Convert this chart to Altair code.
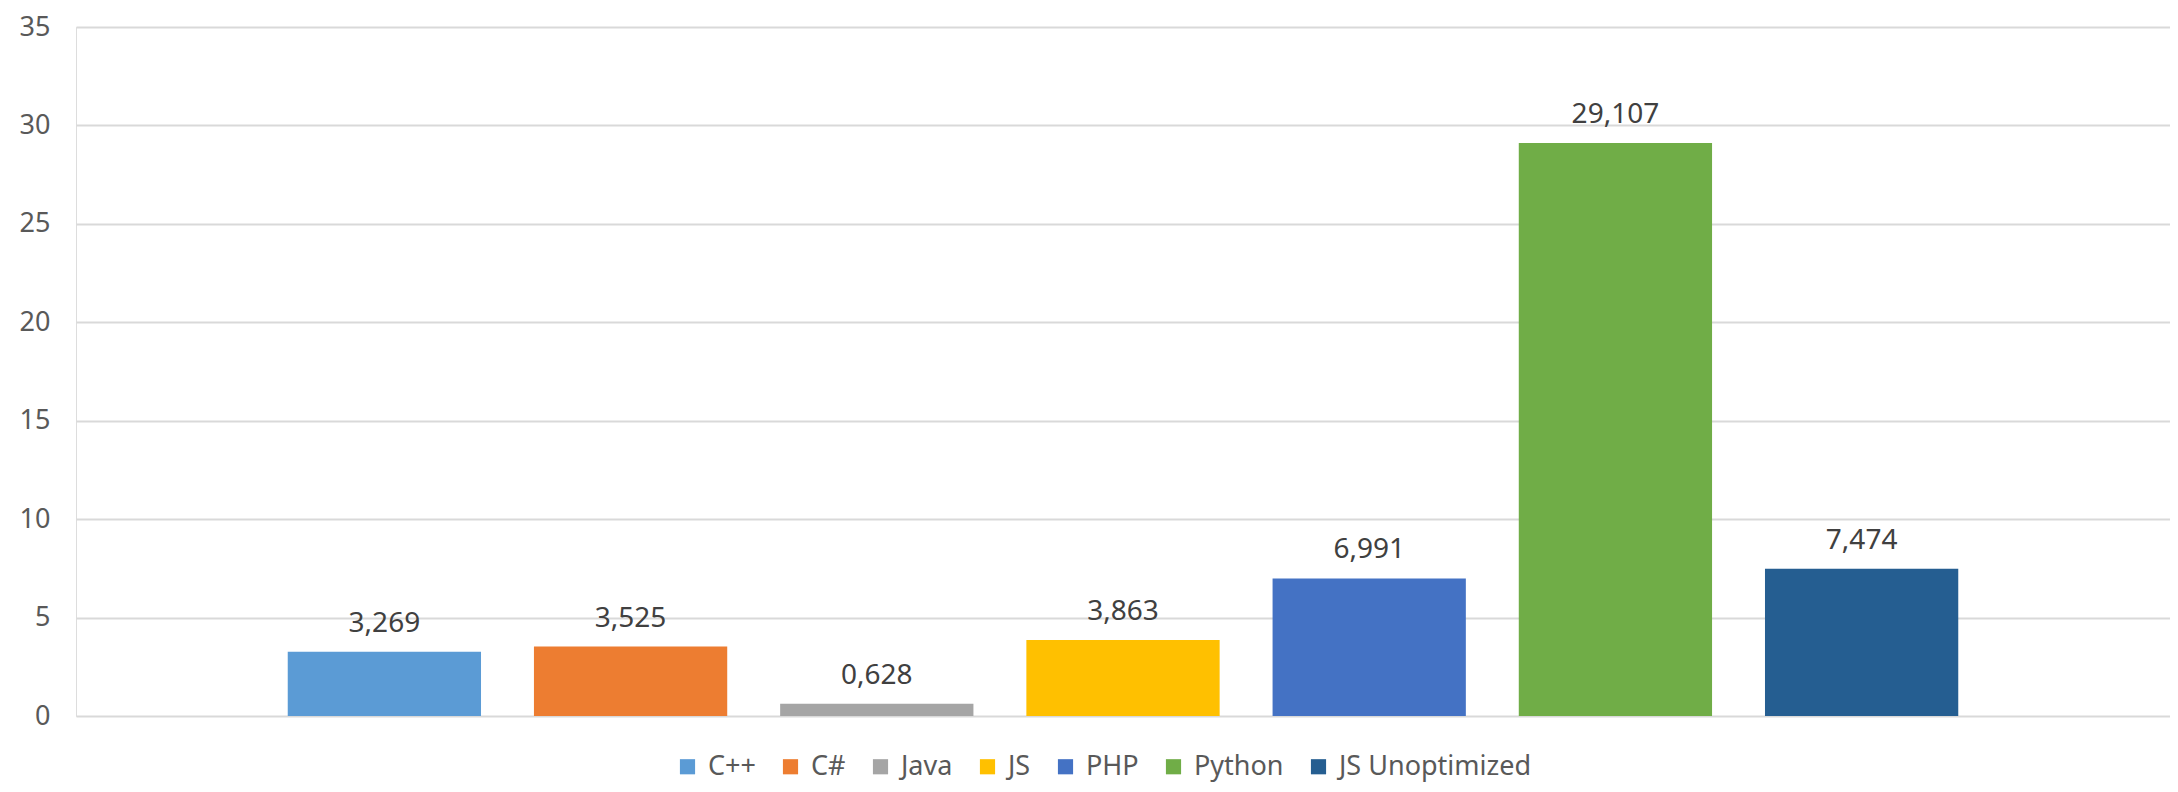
import altair as alt
import pandas as pd

languages = ["C++", "C#", "Java", "JS", "PHP", "Python", "JS Unoptimized"]
values = [3.269, 3.525, 0.628, 3.863, 6.991, 29.107, 7.474]
colors = ["#5B9BD5", "#ED7D31", "#A5A5A5", "#FFC000", "#4472C4", "#70AD47", "#255E91"]
y_ticks = [0, 5, 10, 15, 20, 25, 30, 35]

df = pd.DataFrame({"language": languages, "value": values})

FONT = "Noto Sans"

base = alt.Chart(df).transform_calculate(
    label="replace(format(datum.value, '.3f'), '.', ',')"
)

x_enc = alt.X(
    "language:N",
    sort=languages,
    axis=None,
    scale=alt.Scale(paddingInner=0.215, paddingOuter=0.86),
)
y_enc = alt.Y(
    "value:Q",
    scale=alt.Scale(domain=[0, 35], nice=False),
    axis=alt.Axis(
        values=y_ticks,
        title=None,
        ticks=False,
        domain=False,
        grid=True,
        gridColor="#D9D9D9",
        gridWidth=2,
        labelFont=FONT,
        labelFontSize=27,
        labelColor="#595959",
        labelPadding=26,
    ),
)

bars = base.mark_bar().encode(
    x=x_enc,
    y=y_enc,
    color=alt.Color(
        "language:N",
        sort=languages,
        scale=alt.Scale(domain=languages, range=colors),
        legend=alt.Legend(
            title=None,
            orient="none",
            direction="horizontal",
            legendX=598,
            legendY=726,
            symbolType="square",
            symbolSize=230,
            symbolStrokeWidth=0,
            labelFont=FONT,
            labelFontSize=27,
            labelColor="#595959",
            labelOffset=7,
            labelLimit=0,
            columnPadding=21,
        ),
    ),
)

text = base.mark_text(
    baseline="bottom",
    dy=-14,
    font=FONT,
    fontSize=28,
    color="#404040",
).encode(
    x=alt.X("language:N", sort=languages),
    y=alt.Y("value:Q"),
    text="label:N",
)

chart = (
    alt.layer(bars, text)
    .properties(
        width=2094,
        height=689,
        autosize=alt.AutoSizeParams(type="none"),
        padding={"left": 68, "top": 19, "right": 0, "bottom": 68},
    )
    .configure_view(stroke=None)
    .configure(background="white")
)

chart.save("out.html", embed_options={"renderer": "svg", "actions": False})
